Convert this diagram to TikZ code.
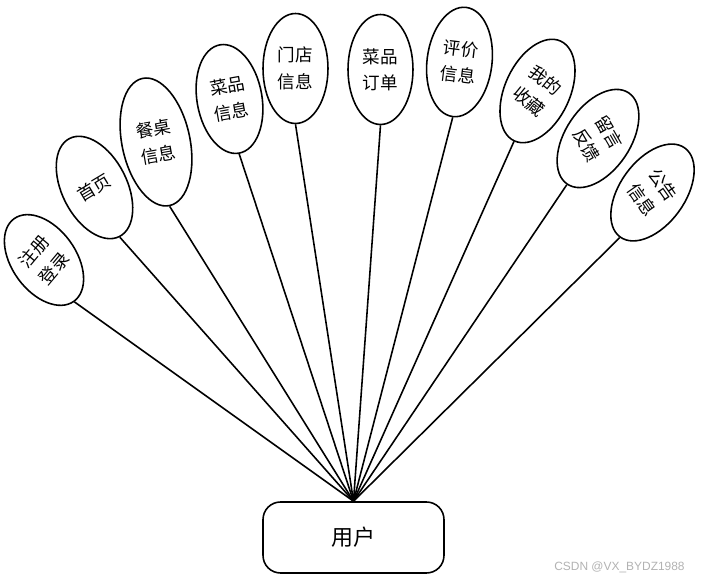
\documentclass[tikz,border=0pt]{standalone}
\usepackage{fontspec}
\newfontfamily\cjk{Noto Sans CJK SC}
\newfontfamily\wmfont{Liberation Sans}
\usetikzlibrary{shapes.geometric}

\tikzset{
  oval/.style={draw,ellipse,line width=0.9pt,inner sep=0pt,minimum width=1.3cm,minimum height=2.2cm},
  lbl/.style={align=center,inner sep=0pt,font=\cjk\fontsize{10}{15}\selectfont},
  link/.style={line width=0.9pt}
}

\begin{document}
\begin{tikzpicture}[x=0.02cm,y=-0.02cm]
\useasboundingbox (0,0) rectangle (701,580);
% ellipses round the user
\node[oval,rotate=36,minimum width=1.28cm,minimum height=2.04cm] (e1) at (44,260) {};
\node[lbl,rotate=50] (t1) at (e1.center) {注册\\登录};
\node[oval,rotate=27] (e2) at (94.5,187.5) {};
\node[lbl,rotate=31] (t2) at (e2.center) {首页};
\node[oval,rotate=12,minimum width=1.36cm,minimum height=2.6cm] (e3) at (156,142) {};
\node[lbl,rotate=10] (t3) at (e3.center) {餐桌\\信息};
\node[oval,rotate=10] (e4) at (229.5,99) {};
\node[lbl,rotate=10] (t4) at (e4.center) {菜品\\信息};
\node[oval] (e5) at (295.5,68.5) {};
\node[lbl] (t5) at (e5.center) {门店\\信息};
\node[oval] (e6) at (380.5,69.5) {};
\node[lbl] (t6) at (e6.center) {菜品\\订单};
\node[oval,rotate=-7] (e7) at (459.5,62) {};
\node[lbl,rotate=-7] (t7) at (e7.center) {评价\\信息};
\node[oval,rotate=-25] (e8) at (537.5,91) {};
\node[lbl,rotate=-39] (t8) at (e8.center) {我的\\收藏};
\node[oval,rotate=-34] (e9) at (598,138.5) {};
\node[lbl,rotate=-60] (t9) at (e9.center) {留言\\反馈};
\node[oval,rotate=-36] (e10) at (652.5,192.5) {};
\node[lbl,rotate=-55] (t10) at (e10.center) {公告\\信息};
% user box
\node[draw,line width=0.9pt,rounded corners=0.35cm,minimum width=3.62cm,minimum height=1.42cm,font=\cjk\fontsize{12.5}{15}\selectfont] (user) at (353.5,537.5) {用户};
\draw[link] (user.north) -- (e1.south);
\draw[link] (user.north) -- (e2.south);
\draw[link] (user.north) -- (e3.south);
\draw[link] (user.north) -- (e4.south);
\draw[link] (user.north) -- (e5.south);
\draw[link] (user.north) -- (e6.south);
\draw[link] (user.north) -- (e7.south);
\draw[link] (user.north) -- (e8.south);
\draw[link] (user.north) -- (e9.south);
\draw[link] (user.north) -- (e10.south);
\node[font=\wmfont\fontsize{6.8}{8}\selectfont,text=black!30,inner sep=0pt] (mark) at (619.5,567) {CSDN @VX\_BYDZ1988};
\end{tikzpicture}
\end{document}
